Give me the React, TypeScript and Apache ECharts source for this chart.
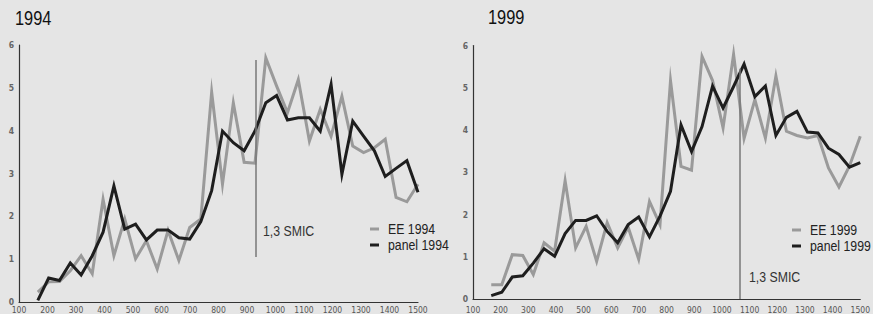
import React, { useEffect, useRef } from "react";
import * as echarts from "echarts";

// Salary bins (x positions of the points)
const xBins = [166, 204, 242, 280, 318, 357, 395, 433, 471, 509, 547, 585, 623, 661, 699, 738, 776, 814, 852, 890, 928, 966, 1004, 1042, 1080, 1119, 1157, 1195, 1233, 1271, 1309, 1347, 1385, 1423, 1461, 1500];

const ee1994 = [0.23, 0.47, 0.48, 0.73, 1.08, 0.66, 2.40, 1.08, 1.94, 1.01, 1.43, 0.77, 1.67, 0.97, 1.74, 1.94, 4.90, 2.75, 4.65, 3.26, 3.24, 5.70, 5.04, 4.42, 5.19, 3.76, 4.50, 3.87, 4.80, 3.64, 3.49, 3.60, 3.80, 2.44, 2.34, 2.75];
const panel1994 = [0.04, 0.56, 0.50, 0.91, 0.63, 1.08, 1.63, 2.71, 1.70, 1.82, 1.45, 1.68, 1.68, 1.50, 1.47, 1.88, 2.60, 3.99, 3.72, 3.53, 3.99, 4.65, 4.82, 4.25, 4.30, 4.30, 3.99, 5.08, 2.98, 4.22, 3.87, 3.53, 2.93, 3.12, 3.30, 2.56];
const ee1999 = [0.34, 0.34, 1.05, 1.03, 0.58, 1.33, 1.13, 2.80, 1.21, 1.72, 0.89, 1.81, 1.21, 1.70, 0.94, 2.31, 1.76, 5.17, 3.14, 3.05, 5.74, 5.17, 4.05, 5.79, 3.80, 4.72, 3.81, 5.28, 3.97, 3.87, 3.81, 3.87, 3.10, 2.65, 3.15, 3.85];
const panel1999 = [0.08, 0.16, 0.52, 0.55, 0.85, 1.19, 1.01, 1.55, 1.86, 1.86, 1.97, 1.60, 1.33, 1.76, 1.94, 1.47, 1.96, 2.55, 4.12, 3.49, 4.08, 5.04, 4.52, 5.03, 5.56, 4.79, 5.04, 3.87, 4.30, 4.44, 3.95, 3.93, 3.57, 3.42, 3.12, 3.23];

// SMIC reference lines: [x, yFrom, yTo]
const smic1994 = [932, 1.05, 5.65];
const smic1999 = [1063, 0, 5.45];
const smicLabel = "1,3 SMIC";
const titles = ["1994", "1999"];
const legend1994 = ["EE 1994", "panel 1994"];
const legend1999 = ["EE 1999", "panel 1999"];

const F = "'Liberation Sans', Arial, sans-serif";
const FA = "'DejaVu Sans Condensed', 'Liberation Sans Narrow', sans-serif";
const NARROW = 0.82;
const GRAY = "#9a9a9a";
const BLACK = "#1e1e1e";

const pairs = (ys: number[]) => ys.map((y, i) => [xBins[i], y]);

const narrowText = (text: string, x: number, y: number, size: number, fill: string) => ({
  type: "text",
  x,
  y,
  scaleX: NARROW,
  silent: true,
  style: { text, fontSize: size, fontFamily: F, fill, textVerticalAlign: "middle", verticalAlign: "middle" },
});

const legendGraphic = (names: string[], colors: string[], x: number, y: number) => {
  const out: any[] = [];
  names.forEach((n, i) => {
    const cy = y + i * 16;
    out.push({ type: "rect", silent: true, shape: { x, y: cy - 1.5, width: 9, height: 3 }, style: { fill: colors[i] } });
    out.push(narrowText(n, x + 18, cy, 15, "#222"));
  });
  return out;
};

export default function App() {
  const ref = useRef<HTMLDivElement>(null);
  useEffect(() => {
    if (!ref.current) return;
    const chart = echarts.init(ref.current, null, { renderer: "svg" });
    const xAxisBase = (gridIndex: number, margin: number) => ({
      type: "value" as const,
      gridIndex,
      min: 100,
      max: 1500,
      interval: 100,
      axisLine: { show: true, onZero: false, lineStyle: { color: "#333", width: 1.2 } },
      axisTick: { show: false },
      splitLine: { show: false },
      axisLabel: { color: "#555", fontSize: 8.5, fontFamily: FA, margin, formatter: (v: number) => String(v) },
    });
    const yAxisBase = (gridIndex: number, margin: number) => ({
      type: "value" as const,
      gridIndex,
      min: 0,
      max: 6,
      interval: 1,
      axisLine: { show: true, lineStyle: { color: "#333", width: 1.2 } },
      axisTick: { show: false },
      splitLine: { show: false },
      axisLabel: { color: "#666", fontSize: 8.5, fontFamily: FA, fontWeight: "bold", margin },
    });
    const lineSeries = (name: string, ys: number[], color: string, idx: number, extra: any = {}) => ({
      type: "line" as const,
      name,
      xAxisIndex: idx,
      yAxisIndex: idx,
      data: pairs(ys),
      symbol: "none",
      itemStyle: { color },
      lineStyle: { color, width: 3, join: "miter", miterLimit: 20 },
      ...extra,
    });
    const markLine = (s: number[]) => ({
      markLine: {
        silent: true,
        symbol: "none",
        label: { show: false },
        lineStyle: { color: "#777", width: 1.5, type: "solid" },
        data: [[{ coord: [s[0], s[1]] }, { coord: [s[0], s[2]] }]],
      },
    });
    chart.setOption({
      animation: false,
      backgroundColor: "#e5e5e5",
      grid: [
        { left: 19, top: 45, width: 399, height: 259 },
        { left: 473, top: 45.5, width: 394, height: 254.5 },
      ],
      xAxis: [xAxisBase(0, 3), xAxisBase(1, 6)],
      yAxis: [yAxisBase(0, 5), yAxisBase(1, 5)],
      series: [
        lineSeries("EE 1994", ee1994, GRAY, 0, markLine(smic1994)),
        lineSeries("panel 1994", panel1994, BLACK, 0),
        lineSeries("EE 1999", ee1999, GRAY, 1, markLine(smic1999)),
        lineSeries("panel 1999", panel1999, BLACK, 1),
      ],
      graphic: [
        narrowText(titles[0], 15, 17.5, 20, "#111"),
        narrowText(titles[1], 488, 17, 20, "#111"),
        narrowText(smicLabel, 263, 231, 15, "#333"),
        narrowText(smicLabel, 749, 277, 15, "#333"),
        ...legendGraphic(legend1994, [GRAY, BLACK], 370, 229),
        ...legendGraphic(legend1999, [GRAY, BLACK], 792, 230),
      ],
    });
    return () => chart.dispose();
  }, []);
  return (
    <div
      ref={ref}
      style={{ position: "fixed", left: 0, top: 0, width: 873, height: 314, background: "#e5e5e5" }}
    />
  );
}
